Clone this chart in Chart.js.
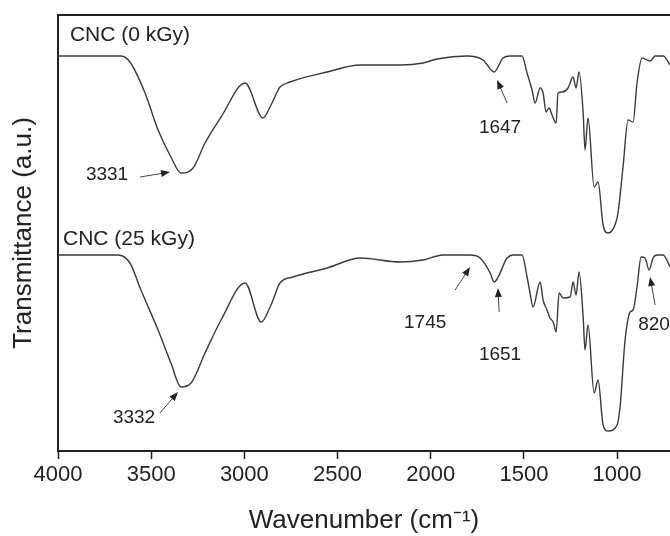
<!DOCTYPE html>
<html>
<head>
<meta charset="utf-8">
<script src="https://cdn.jsdelivr.net/npm/chart.js@4.4.1/dist/chart.umd.min.js"></script>
<style>
  html, body { margin:0; padding:0; background:#fff; overflow:hidden; }
  #wrap { width:670px; height:536px; position:relative; }
</style>
</head>
<body>
<div id="wrap"><canvas id="graficaFTIR"></canvas></div>
<script>
// espectros FTIR (numero de onda, transmitancia a.u.)
var wn0 = [4000,3662,3614,3533,3463,3394,3340,3275,3211,3125,2996,2900,2857,2819,2809,2755,2556,2379,2165,2041,1966,1805,1719,1660,1612,1574,1510,1483,1456,1440,1413,1397,1381,1365,1349,1327,1317,1295,1263,1236,1220,1204,1182,1172,1156,1123,1102,1075,1048,1011,995,968,941,914,893,866,823,796,753,715];
var cnc0 = [395,395,389,358,321,294,278,283,308,334,368,333,346,361,364,369,379,386,386,388,392,395,391,379,393,395,395,378,361,348,363,358,339,343,336,328,358,359,363,374,363,379,338,301,333,264,269,226,218,226,238,284,331,329,368,393,390,395,395,386];

var wn25 = [4000,3678,3614,3555,3463,3394,3340,3286,3211,3125,2996,2910,2857,2846,2809,2739,2556,2379,2165,2041,1934,1789,1735,1681,1660,1590,1558,1510,1483,1467,1451,1413,1397,1376,1360,1343,1327,1311,1290,1252,1236,1220,1204,1182,1172,1156,1123,1102,1075,1048,1000,984,957,930,914,893,871,850,828,807,785,753,715];
var cnc25 = [196,196,188,161,121,88,64,68,98,131,168,129,146,151,168,174,183,193,189,191,196,196,193,178,169,193,196,196,174,158,144,169,151,141,133,129,119,158,153,154,169,156,179,134,101,126,58,71,26,20,26,44,111,139,141,164,194,193,181,193,196,196,184];

var ticksX = [4000,3500,3000,2500,2000,1500,1000];

// etiquetas de series y picos
var nombres = ["CNC (0 kGy)", "CNC (25 kGy)"];
var nombresPos = [[3936,416],[3973,212]];
var picos = ["3331","1647","3332","1745","1651","820"];
var picosPos = [[3737,276],[1628,323],[3592,33],[2030,128],[1628,96],[887,126]];
var picosAlign = ["center","center","center","center","center","left"];
var flechas = [
  [[3560,274],[3399,279]],
  [[1590,348],[1644,371]],
  [[3453,38],[3356,59]],
  [[1869,161],[1789,184]],
  [[1633,139],[1639,163]],
  [[796,146],[823,174]]
];

function puntos(xs, ys){
  var out = [];
  for (var i = 0; i < xs.length; i++) out.push({x:xs[i], y:ys[i]});
  return out;
}

var anotaciones = {
  id:"anotaciones",
  afterDatasetsDraw: function(chart){
    var ctx = chart.ctx, sx = chart.scales.x, sy = chart.scales.y, a = chart.chartArea;
    ctx.save();
    // borde superior del marco
    ctx.strokeStyle = "#222";
    ctx.lineWidth = 2;
    ctx.beginPath();
    ctx.moveTo(a.left, a.top);
    ctx.lineTo(a.right, a.top);
    ctx.stroke();

    ctx.fillStyle = "#222";
    ctx.textBaseline = "middle";
    ctx.font = "21px 'Liberation Sans', Arial, sans-serif";
    ctx.textAlign = "left";
    nombres.forEach(function(t, i){
      ctx.fillText(t, sx.getPixelForValue(nombresPos[i][0]), sy.getPixelForValue(nombresPos[i][1]));
    });
    ctx.font = "19px 'Liberation Sans', Arial, sans-serif";
    picos.forEach(function(t, i){
      ctx.textAlign = picosAlign[i];
      ctx.fillText(t, sx.getPixelForValue(picosPos[i][0]), sy.getPixelForValue(picosPos[i][1]));
    });

    ctx.strokeStyle = "#444";
    ctx.fillStyle = "#222";
    ctx.lineWidth = 1;
    flechas.forEach(function(f){
      var x1 = sx.getPixelForValue(f[0][0]), y1 = sy.getPixelForValue(f[0][1]);
      var x2 = sx.getPixelForValue(f[1][0]), y2 = sy.getPixelForValue(f[1][1]);
      var ang = Math.atan2(y2 - y1, x2 - x1);
      ctx.beginPath();
      ctx.moveTo(x1, y1);
      ctx.lineTo(x2 - 6*Math.cos(ang), y2 - 6*Math.sin(ang));
      ctx.stroke();
      ctx.beginPath();
      ctx.moveTo(x2, y2);
      ctx.lineTo(x2 - 9*Math.cos(ang) + 3.5*Math.sin(ang), y2 - 9*Math.sin(ang) - 3.5*Math.cos(ang));
      ctx.lineTo(x2 - 9*Math.cos(ang) - 3.5*Math.sin(ang), y2 - 9*Math.sin(ang) + 3.5*Math.cos(ang));
      ctx.closePath();
      ctx.fill();
    });
    ctx.restore();
  }
};

var canva = document.getElementById("graficaFTIR").getContext("2d");
var chartF = new Chart(canva, {
  type:"line",
  data:{
    datasets:[{
      label:nombres[0],
      data:puntos(wn0, cnc0),
      borderColor:"#3a3a3a",
      borderWidth:1.4,
      pointRadius:0,
      cubicInterpolationMode:"monotone"
    },{
      label:nombres[1],
      data:puntos(wn25, cnc25),
      borderColor:"#3a3a3a",
      borderWidth:1.4,
      pointRadius:0,
      cubicInterpolationMode:"monotone"
    }]
  },
  options:{
    responsive:true,
    maintainAspectRatio:false,
    animation:false,
    layout:{ padding:{ top:15, right:0, left:0, bottom:0 } },
    plugins:{ legend:{ display:false }, tooltip:{ enabled:false } },
    scales:{
      x:{
        type:"linear",
        reverse:true,
        min:716,
        max:4000,
        afterBuildTicks:function(scale){
          scale.ticks = ticksX.map(function(v){ return {value:v}; });
        },
        afterFit:function(scale){ scale.height = 85; },
        grid:{ drawOnChartArea:false, tickLength:8, color:"#222", tickWidth:1.5 },
        border:{ display:true, color:"#222", width:2 },
        ticks:{
          color:"#222",
          padding:3,
          maxRotation:0,
          font:{ family:"'Liberation Sans', Arial, sans-serif", size:22 },
          callback:function(v){ return String(v); }
        },
        title:{
          display:true,
          text:"Wavenumber (cm\u207B\u00B9)",
          color:"#222",
          padding:{ top:0, bottom:0 },
          font:{ family:"'Liberation Sans', Arial, sans-serif", size:26 }
        }
      },
      y:{
        min:0,
        max:436,
        afterFit:function(scale){ scale.width = 58; },
        grid:{ display:false },
        border:{ display:true, color:"#222", width:2 },
        ticks:{ display:false },
        title:{
          display:true,
          text:"Transmittance (a.u.)",
          color:"#222",
          padding:{ top:8, bottom:0 },
          font:{ family:"'Liberation Sans', Arial, sans-serif", size:26 }
        }
      }
    }
  },
  plugins:[anotaciones]
});
</script>
</body>
</html>
